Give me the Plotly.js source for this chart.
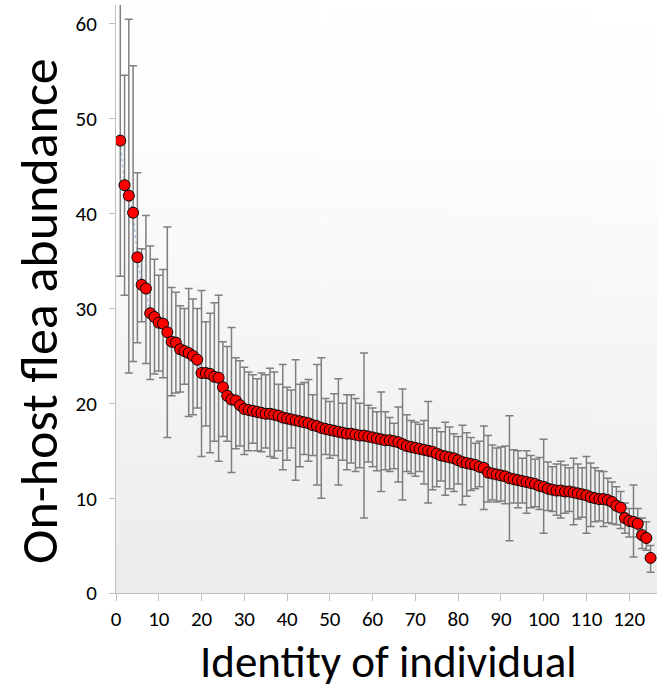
<!DOCTYPE html>
<html>
<head>
<meta charset="utf-8">
<script src="https://cdn.plot.ly/plotly-3.0.1.min.js"></script>
<style>
html,body{margin:0;padding:0;background:#fff;}
#chart{width:665px;height:689px;}
</style>
</head>
<body>
<div id="chart"></div>
<script>
// Mean on-host flea abundance per individual (ranked)
const abundance = [
47.7,43.0,41.9,40.1,35.4,32.5,32.1,29.5,29.1,28.5,
28.4,27.5,26.5,26.4,25.7,25.5,25.3,25.0,24.6,23.2,
23.2,23.1,22.8,22.7,21.7,20.8,20.4,20.3,19.8,19.4,
19.3,19.2,19.1,19.0,18.9,18.9,18.8,18.7,18.5,18.4,
18.3,18.2,18.1,18.0,17.9,17.7,17.6,17.4,17.3,17.2,
17.1,17.0,16.9,16.8,16.8,16.7,16.6,16.6,16.5,16.4,
16.3,16.2,16.1,16.1,16.0,15.9,15.7,15.5,15.4,15.3,
15.2,15.1,15.0,14.9,14.7,14.5,14.4,14.3,14.2,14.0,
13.8,13.7,13.6,13.5,13.3,13.2,12.7,12.6,12.5,12.4,
12.3,12.1,12.0,11.9,11.8,11.7,11.6,11.5,11.3,11.2,
11.0,10.9,10.8,10.8,10.7,10.7,10.6,10.5,10.4,10.3,
10.1,10.0,9.9,9.9,9.8,9.6,9.2,9.0,7.9,7.6,
7.5,7.3,6.1,5.8,3.7];

// Upper ends of the error bars
const upperBound = [
64,54.6,60.5,55.6,44.3,36.3,39.8,36.6,35.2,33.5,
34.1,38.6,32.2,31.7,30.3,30.0,32.1,31.0,30.0,31.9,
28.6,29.5,30.6,31.4,26.5,26.0,28.0,24.8,24.5,23.8,
23.3,23.0,22.6,23.2,23.0,23.7,23.3,22.0,24.1,21.7,
21.4,24.6,22.0,22.2,22.5,20.9,24.1,24.8,20.5,20.2,
21.0,22.6,20.0,20.9,20.9,20.5,20.0,25.3,19.8,19.5,
19.1,21.2,19.1,18.5,17.9,19.6,21.5,18.8,18.2,18.0,
17.8,18.2,20.2,17.4,17.4,17.0,18.0,17.5,16.8,16.5,
17.7,16.9,16.4,15.8,16.0,17.6,16.6,15.6,15.3,15.4,
15.5,18.7,15.1,15.0,14.2,15.0,14.5,14.1,14.3,16.2,
13.8,13.3,13.6,13.9,13.5,13.2,14.2,13.6,13.2,14.4,
13.7,13.2,12.9,12.8,12.1,11.7,11.2,10.7,9.5,8.9,
11.4,8.9,7.9,7.5,5.0];

// Lower ends of the error bars
const lowerBound = [
33.4,31.4,23.2,24.4,26.4,28.6,24.2,22.5,23.1,23.4,
22.7,16.4,20.8,21.1,21.2,22.0,18.6,18.8,19.5,14.4,
17.6,14.8,16.0,13.9,16.5,16.0,12.7,15.2,15.5,14.6,
15.0,15.8,15.0,14.9,15.3,14.4,14.2,15.0,13.0,14.0,
15.3,11.9,13.3,14.6,13.9,14.5,11.4,10.0,14.6,14.2,
14.5,11.4,14.0,13.0,13.7,12.8,13.2,7.9,13.8,13.3,
12.9,10.7,13.0,12.8,13.1,11.7,9.8,12.8,12.6,12.3,
12.8,11.5,9.5,10.9,11.2,11.8,10.3,11.0,10.7,11.5,
9.3,10.2,10.8,11.0,11.2,8.8,9.6,9.8,9.6,9.7,
9.4,5.5,9.5,9.0,9.5,8.4,9.0,9.1,8.8,6.3,
8.7,8.6,8.2,7.9,8.4,8.6,7.2,7.8,8.0,6.3,
7.0,7.5,7.6,7.0,7.4,7.3,7.2,6.8,6.3,5.9,
3.8,5.9,4.7,4.5,2.2];

const individual = abundance.map((_, i) => i + 1);
const xTicks = [0,10,20,30,40,50,60,70,80,90,100,110,120];
const yTicks = [0,10,20,30,40,50,60];
const xTitle = 'Identity of individual';
const yTitle = 'On-host flea abundance';

const errPlus = upperBound.map((u, i) => +(u - abundance[i]).toFixed(2));
const errMinus = lowerBound.map((l, i) => +(abundance[i] - l).toFixed(2));

// vertical gradient for plot background
const cv = document.createElement('canvas');
cv.width = 4; cv.height = 256;
const ctx = cv.getContext('2d');
const g = ctx.createLinearGradient(0, 0, 0, 256);
g.addColorStop(0, '#ffffff');
g.addColorStop(0.25, '#fdfdfd');
g.addColorStop(1, '#ececec');
ctx.fillStyle = g;
ctx.fillRect(0, 0, 4, 256);
const bgURL = cv.toDataURL('image/png');

const FONT = 'Carlito, Lato, "Open Sans", sans-serif';

const traces = [
  {
    x: individual, y: abundance,
    type: 'scatter', mode: 'lines',
    line: {color: '#8db4e2', width: 1, dash: 'dot'},
    hoverinfo: 'skip', showlegend: false
  },
  {
    x: individual, y: abundance,
    type: 'scatter', mode: 'markers',
    marker: {color: '#ff0000', size: 11, line: {color: '#000000', width: 1}},
    error_y: {
      type: 'data', symmetric: false,
      array: errPlus, arrayminus: errMinus,
      color: '#7f7f7f', thickness: 1.5, width: 4
    },
    showlegend: false
  }
];

const layout = {
  width: 665, height: 689,
  margin: {l: 116, r: 8, t: 5, b: 96},
  paper_bgcolor: '#ffffff',
  plot_bgcolor: 'rgba(0,0,0,0)',
  font: {family: FONT, color: '#000000', size: 21},
  showlegend: false,
  images: [{
    source: bgURL, xref: 'paper', yref: 'paper',
    x: 0, y: 1, sizex: 1, sizey: 1, sizing: 'stretch',
    xanchor: 'left', yanchor: 'top', layer: 'below'
  }],
  xaxis: {
    range: [0, 126.5],
    tickvals: xTicks, ticktext: xTicks.map(String),
    showgrid: false, zeroline: false,
    showline: true, linecolor: '#bfbfbf', linewidth: 1,
    ticks: 'outside', ticklen: 7, tickcolor: '#bfbfbf',
    ticklabelstandoff: 0,
    tickfont: {family: FONT, size: 21, color: '#000'}
  },
  yaxis: {
    range: [0, 62.0],
    tickvals: yTicks, ticktext: yTicks.map(String),
    showgrid: false, zeroline: false,
    showline: true, linecolor: '#bfbfbf', linewidth: 1,
    ticks: 'outside', ticklen: 6, tickcolor: '#bfbfbf',
    ticklabelstandoff: 8,
    tickfont: {family: FONT, size: 21, color: '#000'}
  },
  annotations: [
    {
      text: xTitle, xref: 'paper', yref: 'paper',
      x: 0.503, y: -0.1165, xanchor: 'center', yanchor: 'middle',
      showarrow: false, font: {family: FONT, size: 45, color: '#000'}
    },
    {
      text: yTitle, xref: 'paper', yref: 'paper', textangle: -90,
      x: -0.142, y: 0.48, xanchor: 'center', yanchor: 'middle',
      showarrow: false, font: {family: FONT, size: 52, color: '#000'}
    }
  ]
};

Plotly.newPlot('chart', traces, layout, {displayModeBar: false, staticPlot: true});
</script>
</body>
</html>
